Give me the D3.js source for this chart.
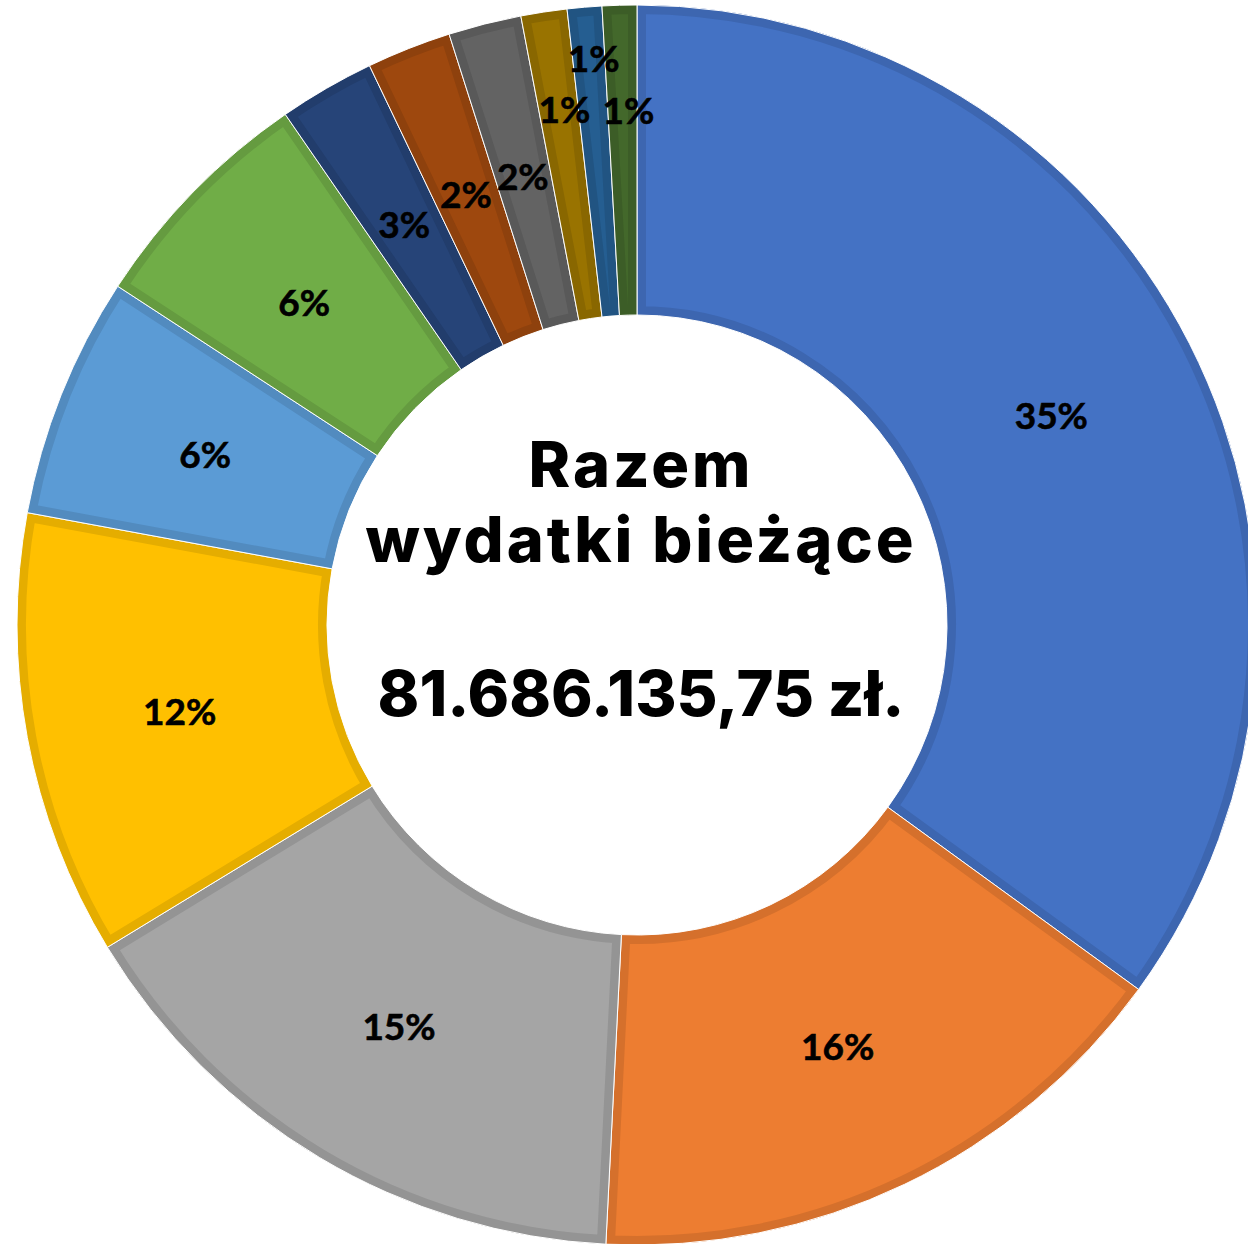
<!DOCTYPE html>
<html>
<head>
<meta charset="utf-8">
<script src="https://cdn.jsdelivr.net/npm/d3@7"></script>
<style>
  body { margin: 0; background: #fff; }
  svg { display: block; }
</style>
</head>
<body>
<svg id="donut" width="1248" height="1244"></svg>
<script>
// udział poszczególnych pozycji w wydatkach bieżących (%), zgodnie z ruchem wskazówek zegara od góry
var shares = [35.0, 15.8, 15.5, 11.6, 6.3, 6.2, 2.5, 2.2, 1.9, 1.2, 0.9, 0.9];
var pctLabels = ["35%", "16%", "15%", "12%", "6%", "6%", "3%", "2%", "2%", "1%", "1%", "1%"];
var sliceColours = ["#4472C4", "#ED7D31", "#A5A5A5", "#FFC000", "#5B9BD5", "#70AD47",
                    "#264478", "#9E480E", "#636363", "#997300", "#255E91", "#43682B"];
var centreLines = ["Razem", "wydatki bieżące", "", "81.686.135,75 zł."];

// layout
var svg = d3.select("#donut"),
    cx = 637, cy = 625,
    outerR = 620, innerR = 310,
    border = 9;

// labels of the thinnest slices are pushed outward so they don't overlap
var labelR = {9: 523, 10: 571, 11: 517};
var labelNudge = {9: 6, 10: 5, 11: 6};

var g = svg.append("g").attr("transform", "translate(" + cx + "," + cy + ")");

var pie = d3.pie().sort(null).value(function(d){ return d; });
var arc = d3.arc().innerRadius(innerR).outerRadius(outerR);
var arcs = pie(shares);

var defs = svg.append("defs");
defs.selectAll("clipPath")
    .data(arcs)
  .enter().append("clipPath")
    .attr("id", function(d, i){ return "clip" + i; })
  .append("path")
    .attr("d", arc);

// fill, then a darker border kept inside each slice
var slices = g.selectAll(".slice")
    .data(arcs)
  .enter().append("g")
    .attr("class", "slice");

slices.append("path")
    .attr("d", arc)
    .attr("fill", function(d, i){ return sliceColours[i]; })
    .attr("stroke", function(d, i){ return d3.color(sliceColours[i]).darker(0.3); })
    .attr("stroke-width", border * 2)
    .attr("stroke-linejoin", "miter")
    .attr("clip-path", function(d, i){ return "url(#clip" + i + ")"; });

slices.append("path")
    .attr("d", arc)
    .attr("fill", "none")
    .attr("stroke", "#fff")
    .attr("stroke-width", 1);

// percentage labels
g.selectAll(".pct")
    .data(arcs)
  .enter().append("text")
    .attr("class", "pct")
    .attr("transform", function(d, i){
        var r = labelR[i] || (innerR + outerR) / 2;
        var a = (d.startAngle + d.endAngle) / 2;
        var nx = labelNudge[i] || 0;
        return "translate(" + (Math.sin(a) * r + nx) + "," + (-Math.cos(a) * r) + ")";
    })
    .attr("text-anchor", "middle")
    .attr("dy", "0.42em")
    .attr("font-family", "Lato, 'Open Sans', sans-serif")
    .attr("font-weight", 700)
    .attr("font-size", 37)
    .attr("fill", "#000")
    .attr("stroke", "#000")
    .attr("stroke-width", 0.6)
    .text(function(d, i){ return pctLabels[i]; });

// centre caption
var lineY = [-138, -63, 0, 91];
var lineSpacing = [3, 3, 0, 0];
g.selectAll(".centre")
    .data(centreLines)
  .enter().append("text")
    .attr("class", "centre")
    .attr("x", 4)
    .attr("y", function(d, i){ return lineY[i]; })
    .attr("text-anchor", "middle")
    .attr("font-family", "Inter, 'Open Sans', sans-serif")
    .attr("font-weight", 800)
    .attr("font-size", 63)
    .attr("letter-spacing", function(d, i){ return lineSpacing[i]; })
    .attr("fill", "#000")
    .text(function(d){ return d; });
</script>
</body>
</html>
